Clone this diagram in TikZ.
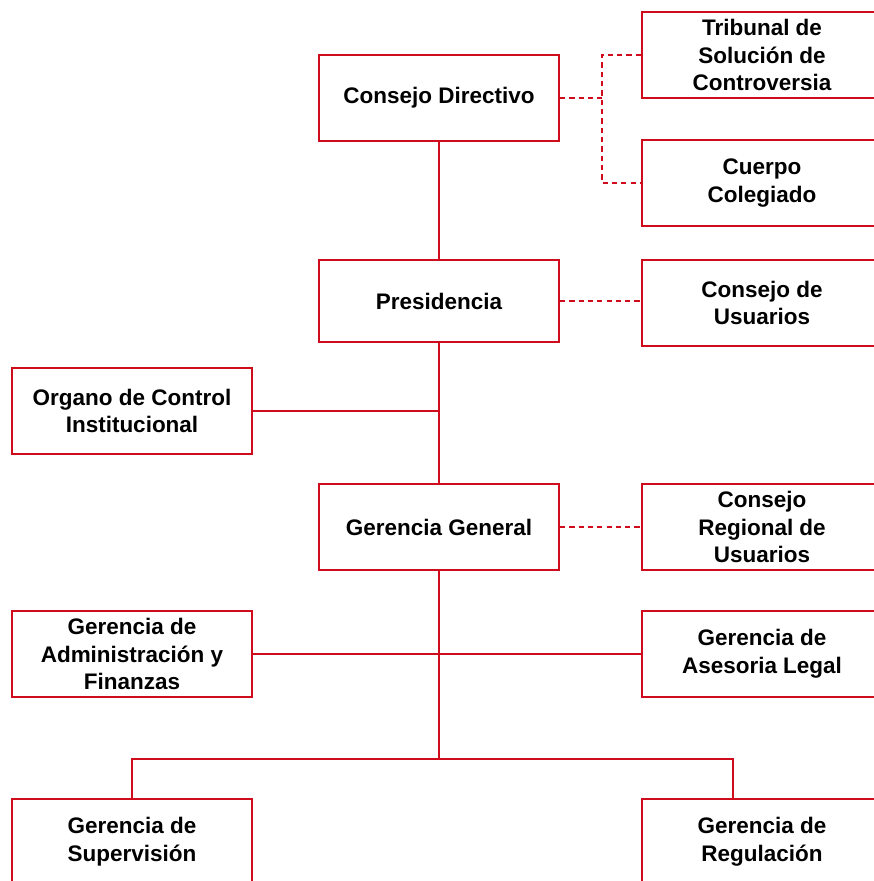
\documentclass[tikz,border=0pt]{standalone}
\usepackage{fontspec}
\setmainfont{Liberation Sans}
\definecolor{linered}{RGB}{206,12,28}

\begin{document}
\begin{tikzpicture}[
        x=0.02cm, y=-0.02cm,
        line width=1.1pt, draw=linered,
        every node/.append style={draw=linered, line width=1.1pt, rectangle,
            minimum width=4.8cm, minimum height=1.72cm, inner sep=0pt,
            align=center, font=\bfseries\fontsize{12.8}{15.8}\selectfont},
        dashline/.style={dashed, dash pattern=on 3pt off 2.3pt}
    ]
        \useasboundingbox (0,0) rectangle (874,881);
        \clip (0,0) rectangle (874,881);
        \node (CD) at (439, 98)  {Consejo Directivo};
        \node (TS) at (762, 55)  {Tribunal de\\Solución de\\Controversia};
        \node (CC) at (762, 183) {Cuerpo\\Colegiado};
        \node[minimum height=1.64cm] (P) at (439, 301) {Presidencia};
        \node (CU) at (762, 303) {Consejo de\\Usuarios};
        \node (OC) at (132, 411) {Organo de Control\\Institucional};
        \node (GG) at (439, 527) {Gerencia General};
        \node (CR) at (762, 527) {Consejo\\Regional de\\Usuarios};
        \node (GA) at (132, 654) {Gerencia de\\Administración y\\Finanzas};
        \node (GL) at (762, 654) {Gerencia de\\Asesoria Legal};
        \node (GS) at (132, 842) {Gerencia de\\Supervisión};
        \node (GR) at (762, 842) {Gerencia de\\Regulación};
        \coordinate (D) at (602, 98);
        \coordinate (J) at (439, 759);
        \coordinate (K) at (733, 759);
        \draw (CD) -- (P) -- (GG) -- (J);
        \draw (OC.east) -- (OC.east -| P.south);
        \draw (GA.east) -- (GL.west);
        \draw (GS.north) |- (J) -- (K) -- (K |- GR.north);
        \draw[dashline] (CD.east) -- (D);
        \draw[dashline] (TS.west) -| (D) |- (CC.west);
        \draw[dashline] (P.east) -- (P.east -| CU.west);
        \draw[dashline] (GG.east) -- (GG.east -| CR.west);
    \end{tikzpicture}
\end{document}
